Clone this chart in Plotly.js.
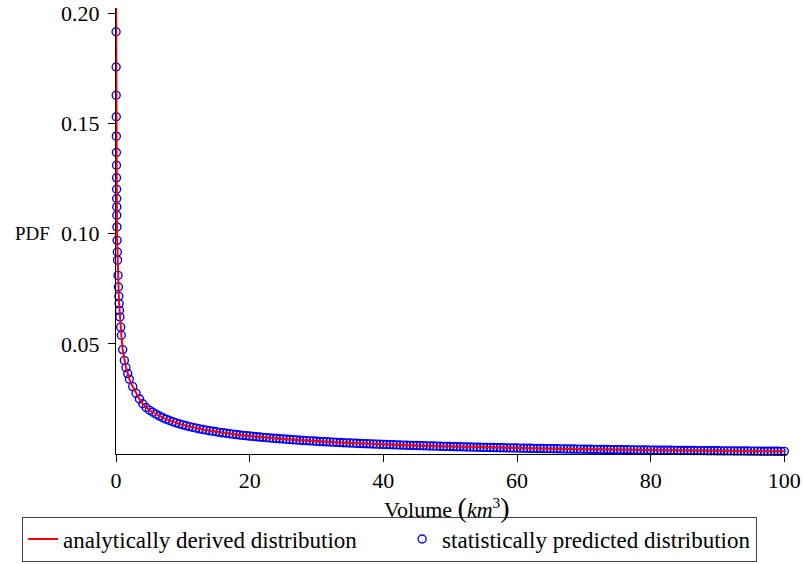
<!DOCTYPE html>
<html><head><meta charset="utf-8">
<script src="https://cdn.plot.ly/plotly-3.0.1.min.js"></script>
<style>html,body{margin:0;padding:0;background:#fff}</style>
</head><body><div id="chart" style="width:804px;height:564px"></div>
<script>
// Statistically predicted points
const headX = [0.01,0.02,0.03,0.04,0.05,0.06,0.07,0.08,0.09,0.10,
               0.11,0.12,0.14,0.17,0.20,0.23,0.30,0.36,0.42,0.47,
               0.52,0.58,0.70,0.80,
               1.0,1.25,1.5,1.75,2.0,2.5,3.0,3.5,4.0,4.5,5.0];
const headY = [0.1917,0.1757,0.1629,0.1531,0.1443,0.1369,0.1311,0.1254,0.1202,0.1160,
               0.1122,0.1084,0.1031,0.0970,0.0917,0.0880,0.0811,0.0758,0.0716,0.0683,
               0.0652,0.0622,0.0576,0.0539,
               0.0474,0.0425,0.0392,0.0365,0.0340,0.0306,0.0276,0.0250,0.0228,0.0211,0.0199];
const tailX = [
 5.5,6,6.5,7,7.5,8,8.5,9,9.5,10,
 10.5,11,11.5,12,12.5,13,13.5,14,14.5,15,
 15.5,16,16.5,17,17.5,18,18.5,19,19.5,20,
 20.5,21,21.5,22,22.5,23,23.5,24,24.5,25,
 25.5,26,26.5,27,27.5,28,28.5,29,29.5,30,
 30.5,31,31.5,32,32.5,33,33.5,34,34.5,35,
 35.5,36,36.5,37,37.5,38,38.5,39,39.5,40,
 40.5,41,41.5,42,42.5,43,43.5,44,44.5,45,
 45.5,46,46.5,47,47.5,48,48.5,49,49.5,50,
 50.5,51,51.5,52,52.5,53,53.5,54,54.5,55,
 55.5,56,56.5,57,57.5,58,58.5,59,59.5,60,
 60.5,61,61.5,62,62.5,63,63.5,64,64.5,65,
 65.5,66,66.5,67,67.5,68,68.5,69,69.5,70,
 70.5,71,71.5,72,72.5,73,73.5,74,74.5,75,
 75.5,76,76.5,77,77.5,78,78.5,79,79.5,80,
 80.5,81,81.5,82,82.5,83,83.5,84,84.5,85,
 85.5,86,86.5,87,87.5,88,88.5,89,89.5,90,
 90.5,91,91.5,92,92.5,93,93.5,94,94.5,95,
 95.5,96,96.5,97,97.5,98,98.5,99,99.5,100];
const tailY = [
 .01895,.01805,.01722,.01648,.01581,.01521,.01465,.01414,.01367,.01323,
 .01282,.01244,.01208,.01174,.01143,.01113,.01084,.01058,.01032,.01008,
 .00984,.00962,.00941,.00920,.00901,.00882,.00864,.00847,.00830,.00814,
 .00799,.00783,.00769,.00755,.00742,.00728,.00716,.00703,.00691,.00679,
 .00668,.00657,.00646,.00636,.00626,.00616,.00606,.00597,.00588,.00579,
 .00570,.00561,.00553,.00545,.00537,.00529,.00522,.00514,.00507,.00500,
 .00493,.00486,.00479,.00473,.00466,.00460,.00454,.00448,.00442,.00436,
 .00430,.00425,.00419,.00414,.00409,.00403,.00398,.00393,.00388,.00384,
 .00379,.00374,.00370,.00365,.00361,.00356,.00352,.00348,.00344,.00339,
 .00335,.00331,.00328,.00324,.00320,.00316,.00313,.00309,.00305,.00302,
 .00299,.00295,.00292,.00288,.00285,.00282,.00279,.00276,.00273,.00270,
 .00267,.00264,.00261,.00258,.00255,.00252,.00250,.00247,.00244,.00242,
 .00239,.00237,.00234,.00232,.00229,.00227,.00224,.00222,.00220,.00217,
 .00215,.00213,.00211,.00208,.00206,.00204,.00202,.00200,.00198,.00196,
 .00194,.00192,.00190,.00188,.00186,.00184,.00182,.00181,.00179,.00177,
 .00175,.00173,.00172,.00170,.00168,.00167,.00165,.00163,.00162,.00160,
 .00159,.00157,.00156,.00154,.00152,.00151,.00150,.00148,.00147,.00145,
 .00144,.00142,.00141,.00140,.00138,.00137,.00136,.00134,.00133,.00132,
 .00131,.00129,.00128,.00127,.00126,.00125,.00123,.00122,.00121,.00120];
// analytic curve continues above the top of the plot
const lineStartX = [0.004];
const lineStartY = [0.215];

const xTicks = [0,20,40,60,80,100];
const yTicks = [0.05,0.10,0.15,0.20];
const yTickText = ['0.05','0.10','0.15','0.20'];
const seriesNames = ['analytically derived distribution','statistically predicted distribution'];

const ptsX = headX.concat(tailX);
const ptsY = headY.concat(tailY);

const FONT = 'Liberation Serif, Times New Roman, Times, serif';
const NBSP = '\u00a0';

const traces = [
  {type:'scatter', mode:'markers', x:ptsX, y:ptsY, name:seriesNames[1], legendrank:2,
   cliponaxis:false,
   marker:{symbol:'circle-open', size:8, color:'#0000ff', line:{width:1.4, color:'#0000ff'}}},
  {type:'scatter', mode:'lines', x:lineStartX.concat(ptsX), y:lineStartY.concat(ptsY),
   name:seriesNames[0] + NBSP.repeat(7), legendrank:1,
   line:{color:'#ff0000', width:2}}
];

const axisCommon = {ticks:'outside', ticklen:7, tickwidth:1, tickcolor:'#000',
  showline:true, linecolor:'#000', linewidth:1, showgrid:false, zeroline:false,
  tickfont:{family:FONT, size:22, color:'#000'}};

const layout = {
  width:804, height:564,
  margin:{l:116, r:17, t:8, b:110, pad:0, autoexpand:false},
  paper_bgcolor:'#fff', plot_bgcolor:'#fff',
  font:{family:FONT, size:22, color:'#000'},
  xaxis:Object.assign({range:[0,100.4], tickmode:'array', tickvals:xTicks, automargin:false}, axisCommon),
  yaxis:Object.assign({range:[0,0.2025], tickmode:'array', tickvals:yTicks, ticktext:yTickText, ticklabelstandoff:4, automargin:false}, axisCommon),
  showlegend:true,
  legend:{orientation:'h', x:-0.140, xanchor:'left', y:-0.1403, yanchor:'top',
    bordercolor:'#444', borderwidth:1, bgcolor:'#fff',
    font:{family:FONT, size:23, color:'#000'}, traceorder:'normal'},
  annotations:[
    {text:'PDF', xref:'paper', yref:'paper', x:-0.125, y:0.495, xanchor:'center', yanchor:'middle', showarrow:false,
     font:{family:FONT, size:19, color:'#000'}},
    {text:'Volume <span style="font-size:28px">(</span><i>km</i><sup>3</sup><span style="font-size:28px">)</span>',
     xref:'paper', yref:'paper', x:0.493, y:-0.12, xanchor:'center', yanchor:'middle', showarrow:false,
     font:{family:FONT, size:22, color:'#000'}}
  ]
};

Plotly.newPlot('chart', traces, layout, {displayModeBar:false, staticPlot:true});
</script>
</body></html>
